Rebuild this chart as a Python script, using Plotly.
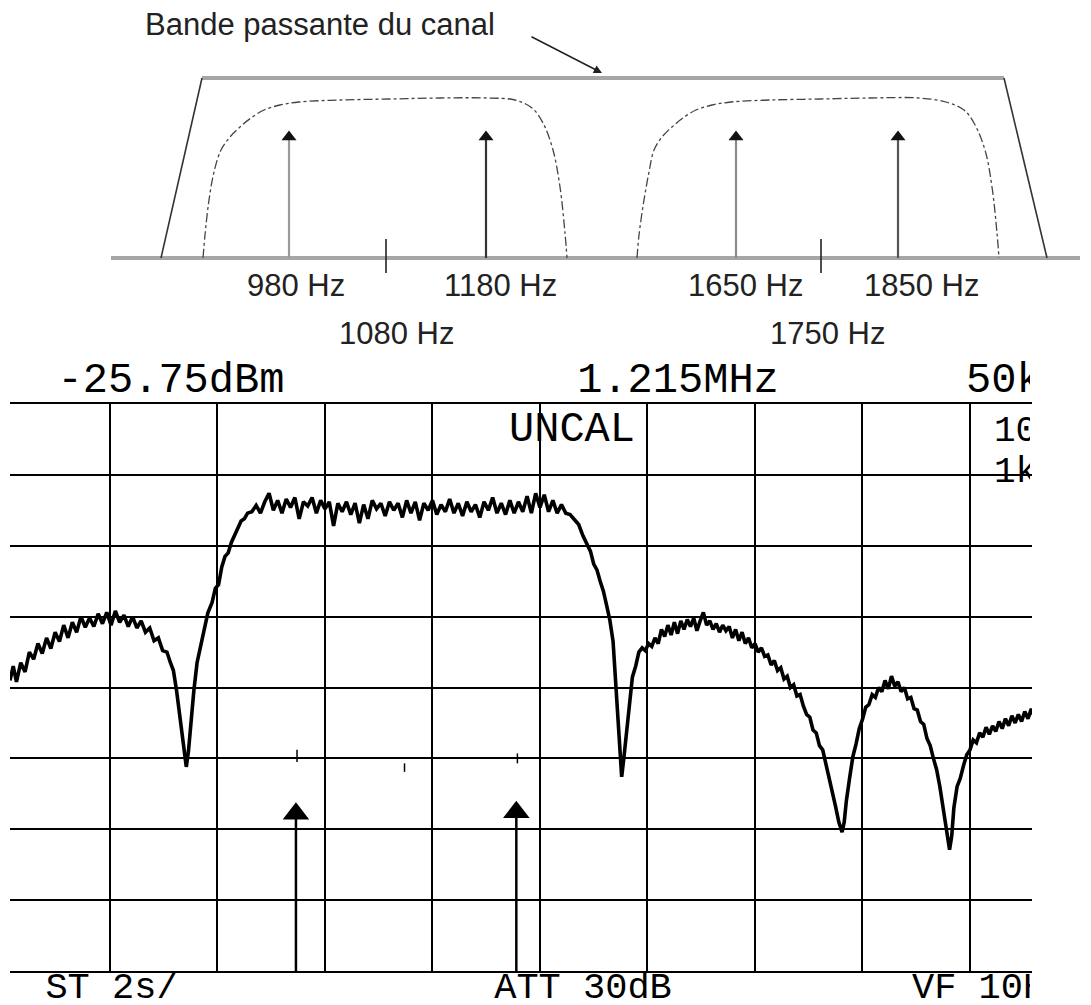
import plotly.graph_objects as go

# ====================== DATA ======================
# --- Top schematic (schematic drawing units) ---
band_title = "Bande passante du canal"
tone_labels = ["980 Hz", "1180 Hz", "1650 Hz", "1850 Hz"]
tone_x = [289, 486, 736, 898]
centre_labels = ["1080 Hz", "1750 Hz"]
centre_x = [386, 821]

channel_side_x = [161, 202, None, 1004, 1047]
channel_side_y = [258, 78, None, 78, 258]
channel_top_x = [202, 1004]
channel_top_y = [78, 78]

filter1_x = [203, 205, 209, 214, 221, 230, 240, 251, 264, 280, 299, 340, 390, 440, 487, 515, 532, 543, 553, 560, 565, 567]
filter1_y = [258, 235, 200, 172, 150, 137, 127, 118, 110, 105, 102, 100, 99, 98, 98, 100, 108, 123, 150, 187, 233, 258]
filter2_x = [637, 639, 644, 649, 654, 662, 672, 683, 696, 712, 731, 770, 820, 870, 919, 946, 964, 974, 985, 992, 997, 999]
filter2_y = [258, 235, 200, 172, 150, 137, 127, 118, 110, 105, 102, 100, 99, 98, 98, 102, 110, 123, 150, 187, 233, 258]

# --- Spectrum analyser trace (x: horizontal divisions, y: vertical divisions) ---
spec_x = [
    0.07, 0.10, 0.13, 0.17, 0.21, 0.25, 0.29, 0.33, 0.37, 0.41,
    0.45, 0.49, 0.53, 0.57, 0.61, 0.65, 0.69, 0.73, 0.77, 0.81,
    0.85, 0.89, 0.93, 0.97, 1.01, 1.05, 1.09, 1.13, 1.17, 1.21,
    1.25, 1.29, 1.33, 1.37, 1.41, 1.45, 1.49, 1.53, 1.56, 1.59,
    1.62, 1.65, 1.68, 1.71, 1.73, 1.75, 1.78, 1.81, 1.84, 1.88,
    1.91, 1.95, 1.98, 2.01, 2.04, 2.07, 2.10, 2.13, 2.16, 2.19,
    2.22, 2.25, 2.28,
    2.32, 2.36, 2.40, 2.44, 2.48, 2.52, 2.56, 2.60, 2.64, 2.68,
    2.72, 2.76, 2.80, 2.84, 2.88, 2.92, 2.96, 3.00, 3.04, 3.08,
    3.12, 3.16, 3.20, 3.24, 3.28, 3.32, 3.36, 3.40, 3.44, 3.48,
    3.52, 3.56, 3.60, 3.64, 3.68, 3.72, 3.76, 3.80, 3.84, 3.88,
    3.92, 3.96, 4.00, 4.04, 4.08, 4.12, 4.16, 4.20, 4.24, 4.28,
    4.32, 4.36, 4.40, 4.44, 4.48, 4.52, 4.56, 4.60, 4.64, 4.68,
    4.72, 4.76, 4.80, 4.84, 4.88, 4.92, 4.96, 5.00, 5.04, 5.08,
    5.12, 5.16, 5.20,
    5.24, 5.28, 5.32, 5.36, 5.40, 5.44, 5.47, 5.50, 5.53, 5.56,
    5.59, 5.62, 5.65, 5.68, 5.70, 5.72, 5.74, 5.76, 5.78, 5.80,
    5.82, 5.84, 5.86, 5.89, 5.92, 5.95, 5.98, 6.01, 6.04, 6.07,
    6.10, 6.13, 6.16, 6.19, 6.22, 6.25, 6.28, 6.31, 6.34, 6.37,
    6.40, 6.43, 6.46, 6.49, 6.52, 6.55, 6.58, 6.61, 6.64, 6.67,
    6.70, 6.73, 6.76, 6.79, 6.82, 6.85, 6.88, 6.91, 6.94, 6.97,
    7.00, 7.03, 7.06, 7.09, 7.12, 7.15, 7.18, 7.21, 7.24, 7.27,
    7.30, 7.33, 7.36, 7.39, 7.42, 7.45, 7.48, 7.51, 7.54, 7.57,
    7.60, 7.63, 7.66, 7.69, 7.72, 7.75, 7.78, 7.81, 7.83, 7.85,
    7.88, 7.91, 7.94, 7.97, 8.00, 8.03, 8.06, 8.09, 8.12, 8.15,
    8.18, 8.21, 8.24, 8.27, 8.30, 8.33, 8.36, 8.39, 8.42, 8.45,
    8.48, 8.51, 8.54, 8.57, 8.60, 8.63, 8.66, 8.69, 8.72, 8.75,
    8.78, 8.81, 8.83, 8.85, 8.88, 8.91, 8.94, 8.97, 9.00, 9.03,
    9.06, 9.09, 9.12, 9.15, 9.18, 9.21, 9.24, 9.27, 9.30, 9.33,
    9.36, 9.39, 9.42, 9.45, 9.48, 9.51, 9.54, 9.57, 9.60,
]
spec_y = [
    4.10, 4.30, 4.08, 4.35, 4.22, 4.50, 4.40, 4.62, 4.48, 4.70,
    4.55, 4.78, 4.65, 4.88, 4.70, 4.92, 4.78, 5.00, 4.85, 4.98,
    4.86, 5.04, 4.90, 5.06, 4.88, 5.08, 4.92, 5.02, 4.86, 5.00,
    4.84, 4.94, 4.78, 4.84, 4.66, 4.70, 4.52, 4.50, 4.36, 4.24,
    3.95, 3.60, 3.20, 2.88, 3.10, 3.50, 3.95, 4.35, 4.55, 4.85,
    5.05, 5.20, 5.40, 5.45, 5.70, 5.85, 5.90, 6.05, 6.15, 6.25,
    6.35, 6.38, 6.46,
    6.48, 6.57, 6.46, 6.62, 6.74, 6.50, 6.64, 6.46, 6.66, 6.54,
    6.68, 6.38, 6.62, 6.56, 6.68, 6.46, 6.64, 6.52, 6.62, 6.28,
    6.60, 6.48, 6.62, 6.44, 6.60, 6.32, 6.58, 6.38, 6.64, 6.52,
    6.60, 6.42, 6.62, 6.50, 6.60, 6.40, 6.64, 6.46, 6.62, 6.36,
    6.60, 6.50, 6.64, 6.44, 6.58, 6.48, 6.66, 6.46, 6.60, 6.42,
    6.62, 6.48, 6.58, 6.40, 6.62, 6.50, 6.68, 6.46, 6.60, 6.44,
    6.64, 6.46, 6.62, 6.48, 6.70, 6.46, 6.74, 6.54, 6.72, 6.48,
    6.64, 6.46, 6.58,
    6.46, 6.44, 6.36, 6.30, 6.14, 6.02, 5.92, 5.74, 5.66, 5.50,
    5.36, 5.16, 4.95, 4.65, 4.20, 3.70, 3.20, 2.74, 3.00, 3.30,
    3.55, 3.90, 4.15, 4.30, 4.50, 4.56, 4.52, 4.62, 4.58, 4.70,
    4.62, 4.82, 4.72, 4.88, 4.74, 4.92, 4.76, 4.94, 4.82, 4.96,
    4.86, 4.98, 4.80, 4.94, 5.06, 4.88, 4.94, 4.82, 4.90, 4.78,
    4.88, 4.80, 4.86, 4.70, 4.82, 4.66, 4.78, 4.62, 4.70, 4.56,
    4.62, 4.50, 4.56, 4.44, 4.46, 4.32, 4.38, 4.24, 4.28, 4.12,
    4.16, 4.00, 4.04, 3.88, 3.90, 3.74, 3.62, 3.58, 3.40, 3.36,
    3.18, 3.12, 2.92, 2.76, 2.56, 2.32, 2.10, 1.96, 2.10, 2.40,
    2.72, 3.02, 3.20, 3.42, 3.55, 3.72, 3.76, 3.90, 3.86, 4.00,
    3.94, 4.10, 3.98, 4.16, 4.02, 4.08, 3.94, 4.00, 3.84, 3.86,
    3.70, 3.68, 3.52, 3.48, 3.28, 3.18, 3.00, 2.84, 2.60, 2.30,
    2.00, 1.71, 1.90, 2.30, 2.60, 2.72, 2.90, 3.05, 3.12, 3.26,
    3.22, 3.36, 3.30, 3.44, 3.34, 3.46, 3.38, 3.52, 3.42, 3.56,
    3.46, 3.60, 3.50, 3.62, 3.52, 3.66, 3.56, 3.70, 3.58,
]

# marker arrows drawn on the analyser screen (tone positions, divisions)
marker_x = [2.73, 4.78]
marker_tip = [2.38, 2.40]
# small stray ticks on the screen
stray_x = [2.74, 2.74, None, 3.74, 3.74, None, 4.79, 4.79]
stray_y = [2.95, 3.12, None, 2.81, 2.93, None, 2.93, 3.07]

# instrument read-outs (centred)
readout_top_text = ["-25.75dBm", "1.215MHz", "UNCAL"]
readout_top_x = [171, 678, 572]
readout_top_y = [381, 381, 430]
readout_bottom_text = ["ST 2s/", "ATT 30dB"]
readout_bottom_x = [112, 583]
readout_bottom_y = [989, 989]
# read-outs cut by the right edge of the photographed screen (left-aligned)
readout_cut_text = ["50kHz", "10dB/", "1kHz", "VF 10Hz"]
readout_cut_x = [966, 994, 994, 912]
readout_cut_y = [381, 432, 473, 989]
readout_cut_size = [42, 36, 36, 37]

assert len(spec_x) == len(spec_y)

# ====================== FIGURE ======================
# The page body has an 8 px margin: the figure is drawn 8 px in from the
# top-left corner, so its size and ranges are set to keep the drawing in place.
OFF = 8
PW, PH = 1091, 1005
W, H = PW - OFF, PH - OFF
MONO = "Liberation Mono"

fig = go.Figure()

# ---------- schematic ----------
S = dict(xaxis="x2", yaxis="y2", hoverinfo="skip", showlegend=False)
fig.add_trace(go.Scatter(x=[111, 1080], y=[258, 258], mode="lines",
                         line=dict(color="#a6a6a6", width=4), **S))
fig.add_trace(go.Scatter(x=[1086], y=[258], mode="markers",
                         marker=dict(symbol="triangle-right", size=11, color="#111"), **S))
fig.add_trace(go.Scatter(x=channel_top_x, y=channel_top_y, mode="lines",
                         line=dict(color="#a6a6a6", width=4), **S))
fig.add_trace(go.Scatter(x=channel_side_x, y=channel_side_y, mode="lines",
                         line=dict(color="#333", width=1.6), **S))
for fx, fy in [(filter1_x, filter1_y), (filter2_x, filter2_y)]:
    fig.add_trace(go.Scatter(x=fx, y=fy, mode="lines", line_shape="spline",
                             line=dict(color="#444", width=1.3, dash="dashdot"), **S))
shaft_colors = ["#9a9a9a", "#333", "#8a8a8a", "#555"]
for tx, c in zip(tone_x, shaft_colors):
    fig.add_trace(go.Scatter(x=[tx, tx], y=[258, 138], mode="lines",
                             line=dict(color=c, width=2.2), **S))
fig.add_trace(go.Scatter(x=tone_x, y=[137] * len(tone_x), mode="markers",
                         marker=dict(symbol="triangle-up", size=13, color="#111"), **S))
for cx in centre_x:
    fig.add_trace(go.Scatter(x=[cx, cx], y=[239, 273], mode="lines",
                             line=dict(color="#222", width=1.6), **S))

# ---------- spectrum ----------
fig.add_trace(go.Scatter(x=spec_x, y=spec_y, mode="lines",
                         line=dict(color="#000", width=3.6), hoverinfo="skip",
                         showlegend=False, xaxis="x", yaxis="y"))
for mx, mt in zip(marker_x, marker_tip):
    fig.add_trace(go.Scatter(x=[mx, mx], y=[0, mt - 0.2], mode="lines",
                             line=dict(color="#000", width=2.5), hoverinfo="skip",
                             showlegend=False, xaxis="x", yaxis="y"))
    fig.add_trace(go.Scatter(x=[mx], y=[mt - 0.16], mode="markers",
                             marker=dict(symbol="triangle-up", size=23, color="#000"),
                             hoverinfo="skip", showlegend=False, xaxis="x", yaxis="y",
                             cliponaxis=False))
fig.add_trace(go.Scatter(x=stray_x, y=stray_y, mode="lines",
                         line=dict(color="#000", width=1.5), hoverinfo="skip",
                         showlegend=False, xaxis="x", yaxis="y"))

# read-out texts
T = dict(mode="text", hoverinfo="skip", showlegend=False, xaxis="x3", yaxis="y3")
fig.add_trace(go.Scatter(x=readout_top_x, y=readout_top_y, text=readout_top_text,
                         textposition="middle center", cliponaxis=False,
                         textfont=dict(family=MONO, size=42, color="#000"), **T))
fig.add_trace(go.Scatter(x=readout_bottom_x, y=readout_bottom_y, text=readout_bottom_text,
                         textposition="middle center", cliponaxis=False,
                         textfont=dict(family=MONO, size=37, color="#000"), **T))
fig.add_trace(go.Scatter(x=readout_cut_x, y=readout_cut_y, text=readout_cut_text,
                         textposition="middle right", cliponaxis=True,
                         textfont=dict(family=MONO, size=readout_cut_size, color="#000"), **T))

# ---------- schematic text ----------
ann = []
font_s = dict(family="Liberation Sans, Arial", size=31, color="#222")
ann.append(dict(text=band_title, x=143, y=24, xref="x2", yref="y2",
                xanchor="left", yanchor="middle", showarrow=False, font=font_s))
ann.append(dict(text="", x=602, y=73, ax=530, ay=36, xref="x2", yref="y2",
                axref="x2", ayref="y2", showarrow=True, arrowhead=2,
                arrowsize=1.1, arrowwidth=1.5, arrowcolor="#222"))
tone_label_x = [296, 500, 745, 921]
for lab, lx in zip(tone_labels, tone_label_x):
    ann.append(dict(text=lab, x=lx, y=285, xref="x2", yref="y2",
                    showarrow=False, font=font_s))
centre_label_x = [396, 827]
for lab, lx in zip(centre_labels, centre_label_x):
    ann.append(dict(text=lab, x=lx, y=333, xref="x2", yref="y2",
                    showarrow=False, font=font_s))

fig.update_layout(
    width=W, height=H, margin=dict(l=0, r=0, t=0, b=0),
    paper_bgcolor="white", plot_bgcolor="rgba(0,0,0,0)",
    showlegend=False, annotations=ann,
    xaxis=dict(domain=[(10 - OFF) / W, (1032 - OFF) / W], range=[0.07, 9.577], anchor="y",
               tick0=0, dtick=1, showgrid=True, gridcolor="#000", gridwidth=2,
               showticklabels=False, ticks="", zeroline=False,
               showline=True, mirror=True, linecolor="#000", linewidth=2),
    yaxis=dict(domain=[(PH - 971) / H, (PH - 404) / H], range=[0, 8], anchor="x",
               tick0=0, dtick=1, showgrid=True, gridcolor="#000", gridwidth=2,
               showticklabels=False, ticks="", zeroline=False, showline=False),
    xaxis2=dict(domain=[0, 1], range=[OFF, PW], anchor="y2", visible=False),
    yaxis2=dict(domain=[0, 1], range=[PH, OFF], anchor="x2", visible=False),
    xaxis3=dict(domain=[0, (1030 - OFF) / W], range=[OFF, 1030], anchor="y3", visible=False),
    yaxis3=dict(domain=[0, 1], range=[PH, OFF], anchor="x3", visible=False),
)

fig.write_html("out.html")
